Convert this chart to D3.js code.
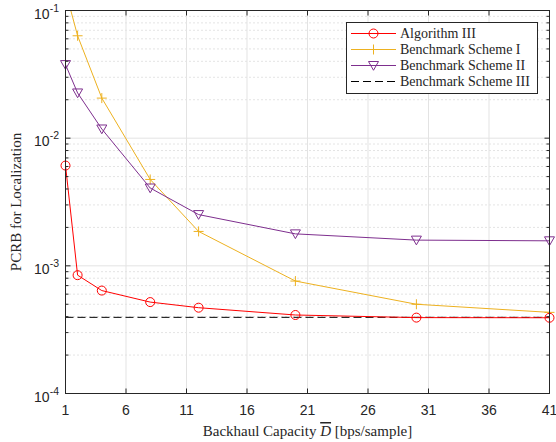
<!DOCTYPE html>
<html><head><meta charset="utf-8">
<script src="https://cdn.jsdelivr.net/npm/d3@7"></script>
<style>body{margin:0;background:#fff}svg{display:block}</style>
</head><body><svg id="c" width="556" height="442"></svg>
<script>
const xValues = [1, 2, 4, 8, 12, 20, 30, 41];
const algIII = [6.1e-3, 8.45e-4, 6.4e-4, 5.2e-4, 4.7e-4, 4.12e-4, 3.93e-4, 3.92e-4];
const benchI = [0.143, 0.0634, 0.0206, 4.75e-3, 1.86e-3, 7.6e-4, 5.0e-4, 4.32e-4];
const benchII = [0.0377, 0.0226, 0.0118, 4.07e-3, 2.52e-3, 1.78e-3, 1.59e-3, 1.57e-3];
const benchIIIValue = 3.95e-4;
const xTicks = [1, 6, 11, 16, 21, 26, 31, 36, 41];
const yTickExps = [-4, -3, -2, -1];
const seriesNames = ["Algorithm III", "Benchmark Scheme I", "Benchmark Scheme II", "Benchmark Scheme III"];

const svg = d3.select("#c");
const L = 65.5, R = 549.5, T = 10.5, B = 393.5;
const x = d3.scaleLinear().domain([1, 41]).range([L, R]);
const y = d3.scaleLog().domain([1e-4, 1e-1]).range([B, T]);
const inRange = v => v >= 1e-4 && v <= 1e-1;

const minorVals = [];
for (let e = -4; e < -1; e++) for (let m = 2; m <= 9; m++) minorVals.push(m * Math.pow(10, e));

// grid
const g = svg.append("g");
g.selectAll(".mg").data(minorVals).enter().append("line")
  .attr("x1", L).attr("x2", R).attr("y1", d => y(d)).attr("y2", d => y(d))
  .attr("stroke", "#c8c8c8").attr("stroke-width", 1).attr("stroke-dasharray", "1,3");
g.selectAll(".xg").data(xTicks.slice(1, -1)).enter().append("line")
  .attr("x1", d => x(d)).attr("x2", d => x(d)).attr("y1", T).attr("y2", B)
  .attr("stroke", "#e3e3e3").attr("stroke-width", 1);
g.selectAll(".yg").data(yTickExps.slice(1, -1)).enter().append("line")
  .attr("x1", L).attr("x2", R).attr("y1", d => y(Math.pow(10, d))).attr("y2", d => y(Math.pow(10, d)))
  .attr("stroke", "#e3e3e3").attr("stroke-width", 1);

// clip
svg.append("clipPath").attr("id", "clip").append("rect")
  .attr("x", L).attr("y", T).attr("width", R - L).attr("height", B - T);

const plot = svg.append("g").attr("clip-path", "url(#clip)");
const line = d3.line().x((d, i) => x(xValues[i])).y(d => y(d));

const cRed = "#ff0000", cYel = "#EDB120", cPur = "#7E2F8E";

// Benchmark III dashed
plot.append("line").attr("x1", x(1)).attr("x2", x(41))
  .attr("y1", y(benchIIIValue)).attr("y2", y(benchIIIValue))
  .attr("stroke", "#000").attr("stroke-width", 1).attr("stroke-dasharray", "8,4");

plot.append("path").datum(benchI).attr("d", line).attr("fill", "none").attr("stroke", cYel).attr("stroke-width", 1);
plot.append("path").datum(benchII).attr("d", line).attr("fill", "none").attr("stroke", cPur).attr("stroke-width", 1);
plot.append("path").datum(algIII).attr("d", line).attr("fill", "none").attr("stroke", cRed).attr("stroke-width", 1);

function plus(sel, cx, cy, c) {
  sel.append("path").attr("d", `M${cx-5},${cy}H${cx+5}M${cx},${cy-5}V${cy+5}`).attr("stroke", c).attr("stroke-width", 1).attr("fill", "none");
}
function tri(sel, cx, cy, c) {
  const s = 5;
  sel.append("path").attr("d", `M${cx-s},${cy-s*0.8}L${cx+s},${cy-s*0.8}L${cx},${cy+s*0.95}Z`).attr("stroke", c).attr("stroke-width", 1).attr("fill", "none");
}
function circ(sel, cx, cy, c) {
  sel.append("circle").attr("cx", cx).attr("cy", cy).attr("r", 4.5).attr("stroke", c).attr("stroke-width", 1).attr("fill", "none");
}
const mk = svg.append("g");
benchI.forEach((v, i) => { if (inRange(v)) plus(mk, x(xValues[i]), y(v), cYel); });
benchII.forEach((v, i) => { if (inRange(v)) tri(mk, x(xValues[i]), y(v), cPur); });
algIII.forEach((v, i) => { if (inRange(v)) circ(mk, x(xValues[i]), y(v), cRed); });

// axes box & ticks
const ax = svg.append("g").attr("stroke", "#262626").attr("stroke-width", 1);
ax.append("rect").attr("x", L).attr("y", T).attr("width", R - L).attr("height", B - T).attr("fill", "none");
xTicks.forEach(t => {
  ax.append("line").attr("x1", x(t)).attr("x2", x(t)).attr("y1", B).attr("y2", B - 5);
  ax.append("line").attr("x1", x(t)).attr("x2", x(t)).attr("y1", T).attr("y2", T + 5);
});
yTickExps.forEach(e => {
  const yy = y(Math.pow(10, e));
  ax.append("line").attr("x1", L).attr("x2", L + 5).attr("y1", yy).attr("y2", yy);
  ax.append("line").attr("x1", R).attr("x2", R - 5).attr("y1", yy).attr("y2", yy);
});
minorVals.forEach(v => {
  const yy = y(v);
  ax.append("line").attr("x1", L).attr("x2", L + 3).attr("y1", yy).attr("y2", yy);
  ax.append("line").attr("x1", R).attr("x2", R - 3).attr("y1", yy).attr("y2", yy);
});

// tick labels
const sans = "'Liberation Sans', Arial, sans-serif";
const serif = "'Liberation Serif', 'Times New Roman', serif";
svg.selectAll(".xt").data(xTicks).enter().append("text")
  .attr("x", d => x(d)).attr("y", 414.5).attr("text-anchor", "middle")
  .attr("font-family", sans).attr("font-size", 14).attr("fill", "#262626").text(d => d);
yTickExps.forEach(e => {
  const t = svg.append("text").attr("x", 59).attr("y", y(Math.pow(10, e)) + 8)
    .attr("text-anchor", "end").attr("font-family", sans).attr("font-size", 14).attr("fill", "#262626");
  t.append("tspan").text("10");
  t.append("tspan").attr("dy", -7).attr("font-size", 10.5).text(String(e));
});

// axis labels
svg.append("text").attr("x", (L + R) / 2).attr("y", 436).attr("text-anchor", "middle")
  .attr("font-family", serif).attr("font-size", 15).attr("fill", "#262626")
  .call(t => {
    t.append("tspan").text("Backhaul Capacity ");
    t.append("tspan").attr("font-style", "italic").attr("text-decoration", "overline").text("D");
    t.append("tspan").text(" [bps/sample]");
  });
svg.append("text").attr("transform", `translate(21,${(T + B) / 2}) rotate(-90)`).attr("text-anchor", "middle")
  .attr("font-family", serif).attr("font-size", 15).attr("fill", "#262626").text("PCRB for Localization");

// legend
const lg = svg.append("g");
lg.append("rect").attr("x", 346.5).attr("y", 22.5).attr("width", 191).attr("height", 71)
  .attr("fill", "#fff").attr("stroke", "#262626").attr("stroke-width", 1);
const ly = [33.5, 49.5, 65.5, 81.5];
const lcol = [cRed, cYel, cPur, "#000"];
seriesNames.forEach((n, i) => {
  const l = lg.append("line").attr("x1", 351).attr("x2", 396).attr("y1", ly[i]).attr("y2", ly[i])
    .attr("stroke", lcol[i]).attr("stroke-width", 1);
  if (i === 3) l.attr("stroke-dasharray", "8,4");
  if (i === 0) circ(lg, 373.5, ly[i], cRed);
  if (i === 1) plus(lg, 373.5, ly[i], cYel);
  if (i === 2) tri(lg, 373.5, ly[i], cPur);
  lg.append("text").attr("x", 400).attr("y", ly[i] + 4.5).attr("font-family", serif).attr("font-size", 14)
    .attr("fill", "#262626").text(n);
});
</script></body></html>
